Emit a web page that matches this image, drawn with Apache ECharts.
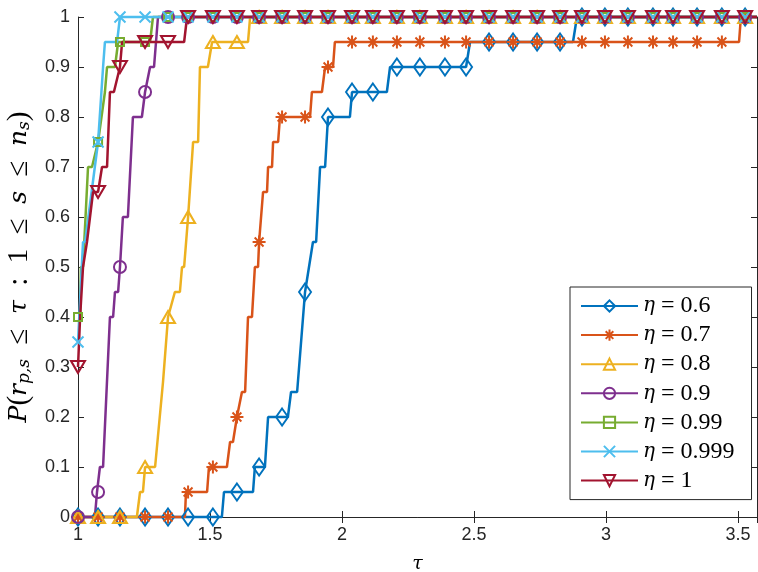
<!DOCTYPE html>
<html>
<head>
<meta charset="utf-8">
<script src="https://cdn.jsdelivr.net/npm/echarts@6/dist/echarts.min.js"></script>
<style>html,body{margin:0;padding:0;background:#fff}#c{width:758px;height:572px}</style>
</head>
<body>
<div id="c"></div>
<script>
// tau values where markers are drawn (shared by all curves)
const markerTau = [1.000,1.076,1.159,1.254,1.341,1.417,1.511,1.602,1.686,1.773,1.860,1.947,2.038,2.117,2.208,2.295,2.390,2.470,2.557,2.648,2.739,2.826,2.909,2.996,3.083,3.178,3.254,3.345,3.439,3.527];

const seriesNames = ['η = 0.6','η = 0.7','η = 0.8','η = 0.9','η = 0.99','η = 0.999','η = 1'];

// line vertices [tau, P]
const line06 = [[1,0],[1.545,0],[1.553,0.05],[1.663,0.05],[1.670,0.1],[1.708,0.1],[1.720,0.2],[1.795,0.2],[1.807,0.25],[1.830,0.25],[1.860,0.45],[1.890,0.55],[1.902,0.55],[1.917,0.7],[1.936,0.7],[1.947,0.8],[2.030,0.8],[2.038,0.85],[2.170,0.85],[2.182,0.9],[2.477,0.9],[2.485,0.95],[2.875,0.95],[2.890,1],[3.572,1]];
const line07 = [[1,0],[1.405,0],[1.409,0.05],[1.489,0.05],[1.496,0.1],[1.564,0.1],[1.576,0.15],[1.587,0.15],[1.621,0.25],[1.633,0.25],[1.644,0.4],[1.659,0.4],[1.670,0.5],[1.682,0.5],[1.686,0.55],[1.701,0.65],[1.716,0.65],[1.720,0.7],[1.735,0.7],[1.739,0.75],[1.758,0.75],[1.765,0.8],[1.879,0.8],[1.886,0.85],[1.924,0.85],[1.936,0.9],[1.966,0.9],[1.973,0.95],[3.504,0.95],[3.511,1],[3.572,1]];
const line08 = [[1,0],[1.223,0],[1.235,0.05],[1.246,0.05],[1.254,0.1],[1.292,0.1],[1.322,0.27],[1.341,0.4],[1.367,0.45],[1.386,0.45],[1.394,0.5],[1.402,0.5],[1.417,0.6],[1.436,0.75],[1.455,0.75],[1.462,0.9],[1.492,0.9],[1.508,0.95],[1.644,0.95],[1.652,1],[3.572,1]];
const line09 = [[1,0],[1.064,0],[1.072,0.05],[1.083,0.1],[1.095,0.1],[1.121,0.4],[1.133,0.4],[1.140,0.45],[1.152,0.45],[1.159,0.5],[1.170,0.6],[1.189,0.6],[1.208,0.8],[1.242,0.8],[1.254,0.85],[1.273,0.9],[1.288,0.9],[1.303,1],[3.572,1]];
const line099 = [[1,0.4],[1.008,0.4],[1.011,0.5],[1.019,0.5],[1.038,0.7],[1.053,0.7],[1.076,0.75],[1.102,0.85],[1.110,0.9],[1.140,0.9],[1.152,0.95],[1.273,0.95],[1.284,1],[3.572,1]];
const line0999 = [[1,0.35],[1.019,0.55],[1.027,0.55],[1.076,0.75],[1.095,0.9],[1.102,0.95],[1.148,0.95],[1.159,1],[3.572,1]];
const line1 = [[1,0.3],[1.008,0.4],[1.019,0.5],[1.034,0.55],[1.057,0.65],[1.083,0.65],[1.091,0.7],[1.110,0.7],[1.121,0.85],[1.136,0.85],[1.159,0.9],[1.167,0.95],[1.402,0.95],[1.413,1],[3.572,1]];

// marker values P at markerTau
const mark06 = [0,0,0,0,0,0,0,0.05,0.1,0.2,0.45,0.8,0.85,0.85,0.9,0.9,0.9,0.9,0.95,0.95,0.95,0.95,1,1,1,1,1,1,1,1];
const mark07 = [0,0,0,0,0,0.05,0.1,0.2,0.55,0.8,0.8,0.9,0.95,0.95,0.95,0.95,0.95,0.95,0.95,0.95,0.95,0.95,0.95,0.95,0.95,0.95,0.95,0.95,0.95,1];
const mark08 = [0,0,0,0.1,0.4,0.6,0.95,0.95,1,1,1,1,1,1,1,1,1,1,1,1,1,1,1,1,1,1,1,1,1,1];
const mark09 = [0,0.05,0.5,0.85,1,1,1,1,1,1,1,1,1,1,1,1,1,1,1,1,1,1,1,1,1,1,1,1,1,1];
const mark099 = [0.4,0.75,0.95,0.95,1,1,1,1,1,1,1,1,1,1,1,1,1,1,1,1,1,1,1,1,1,1,1,1,1,1];
const mark0999 = [0.35,0.75,1,1,1,1,1,1,1,1,1,1,1,1,1,1,1,1,1,1,1,1,1,1,1,1,1,1,1,1];
const mark1 = [0.3,0.65,0.9,0.95,0.95,1,1,1,1,1,1,1,1,1,1,1,1,1,1,1,1,1,1,1,1,1,1,1,1,1];

const xTicks = {min: 1, max: 3.572, interval: 0.5};

const colors = ['#0072BD','#D95319','#EDB120','#7E2F8E','#77AC30','#4DBEEE','#A2142F'];
const ASTER = 'path://M0 5L10 5M5 0L5 10M1.6 1.6L8.4 8.4M8.4 1.6L1.6 8.4';
const XMARK = 'path://M0 0L10 10M10 0L0 10';
const symbols = [
  {symbol:'diamond', size:[12,17], rot:0},
  {symbol:ASTER, size:13, rot:0},
  {symbol:'triangle', size:[14,12], rot:0},
  {symbol:'circle', size:12, rot:0},
  {symbol:'rect', size:8, rot:0},
  {symbol:XMARK, size:11, rot:0},
  {symbol:'triangle', size:[14,12], rot:180}
];
const lines = [line06,line07,line08,line09,line099,line0999,line1];
const marks = [mark06,mark07,mark08,mark09,mark099,mark0999,mark1];

function build(verts, mk) {
  const pts = verts.map(v => ({value: v, symbol: 'none'}));
  mk.forEach((p, i) => pts.push({value: [markerTau[i], p]}));
  pts.sort((a, b) => (a.value[0] - b.value[0]) || (a.value[1] - b.value[1]));
  return pts;
}

const series = seriesNames.map((name, k) => ({
  name: name,
  type: 'line',
  data: build(lines[k], marks[k]),
  showSymbol: true,
  showAllSymbol: true,
  symbol: symbols[k].symbol,
  symbolSize: symbols[k].size,
  symbolRotate: symbols[k].rot,
  clip: false,
  lineStyle: {color: colors[k], width: 2.5},
  itemStyle: {color: 'rgba(0,0,0,0)', borderColor: colors[k], borderWidth: 2},
  emphasis: {disabled: true},
  animation: false
}));

const axisCol = '#262626';
const chart = echarts.init(document.getElementById('c'), null, {renderer: 'canvas'});
chart.setOption({
  animation: false,
  backgroundColor: '#fff',
  grid: {left: 78, right: 1, top: 17, bottom: 55, containLabel: false, outerBoundsMode: 'none'},
  legend: {
    orient: 'vertical',
    left: 570, top: 287,
    padding: [7, 17, 7, 10],
    itemGap: 5.1,
    itemWidth: 57,
    itemHeight: 14,
    backgroundColor: '#fff',
    borderColor: axisCol,
    borderWidth: 1,
    borderRadius: 0,
    data: seriesNames,
    formatter: n => '{i|η}{n|\u2005=\u2005' + n.slice(4) + '}',
    textStyle: {
      rich: {
        i: {fontFamily: 'DejaVu Serif', fontStyle: 'italic', fontSize: 20, color: '#000', lineHeight: 22},
        n: {fontFamily: 'Liberation Serif', fontSize: 24, color: '#000', lineHeight: 22}
      }
    }
  },
  xAxis: [{
    type: 'value', min: xTicks.min, max: xTicks.max, interval: xTicks.interval,
    name: 'τ', nameLocation: 'middle', nameGap: 38,
    nameTextStyle: {fontFamily: 'DejaVu Serif', fontStyle: 'italic', fontSize: 19, color: '#000'},
    axisLine: {show: true, lineStyle: {color: axisCol, width: 1}},
    axisTick: {show: true, inside: true, length: 6, lineStyle: {color: axisCol}},
    axisLabel: {fontFamily: 'Liberation Sans', fontSize: 18, color: axisCol, margin: 9, showMaxLabel: false},
    splitLine: {show: false}
  }, {
    type: 'value', position: 'top', min: xTicks.min, max: xTicks.max, interval: xTicks.interval,
    axisLine: {show: true, lineStyle: {color: axisCol, width: 1}},
    axisTick: {show: true, inside: true, length: 6, lineStyle: {color: axisCol}},
    axisLabel: {show: false},
    splitLine: {show: false}
  }],
  yAxis: [{
    type: 'value', min: 0, max: 1, interval: 0.1,
    name: '{i|P}{n|(}{i|r}{s|p,s}{n|\u2002≤\u2002}{i|τ}{n|\u2002:\u20021\u2002≤\u2002}{i|s}{n|\u2002≤\u2002}{i|n}{s|s}{n|)}',
    nameLocation: 'middle', nameGap: 34, nameRotate: 90,
    nameTextStyle: {
      color: '#000',
      rich: {
        i: {fontFamily: 'DejaVu Serif', fontStyle: 'italic', fontSize: 25, color: '#000', lineHeight: 28, verticalAlign: 'middle'},
        n: {fontFamily: 'Liberation Serif', fontSize: 29, color: '#000', lineHeight: 28, verticalAlign: 'middle'},
        s: {fontFamily: 'DejaVu Serif', fontStyle: 'italic', fontSize: 17, color: '#000', lineHeight: 28, verticalAlign: 'bottom'}
      }
    },
    axisLine: {show: true, lineStyle: {color: axisCol, width: 1}},
    axisTick: {show: true, inside: true, length: 6, lineStyle: {color: axisCol}},
    axisLabel: {fontFamily: 'Liberation Sans', fontSize: 18, color: axisCol, margin: 8},
    splitLine: {show: false}
  }, {
    type: 'value', position: 'right', min: 0, max: 1, interval: 0.1,
    axisLine: {show: true, lineStyle: {color: axisCol, width: 1}},
    axisTick: {show: true, inside: true, length: 6, lineStyle: {color: axisCol}},
    axisLabel: {show: false},
    splitLine: {show: false}
  }],
  series: series
});
</script>
</body>
</html>
